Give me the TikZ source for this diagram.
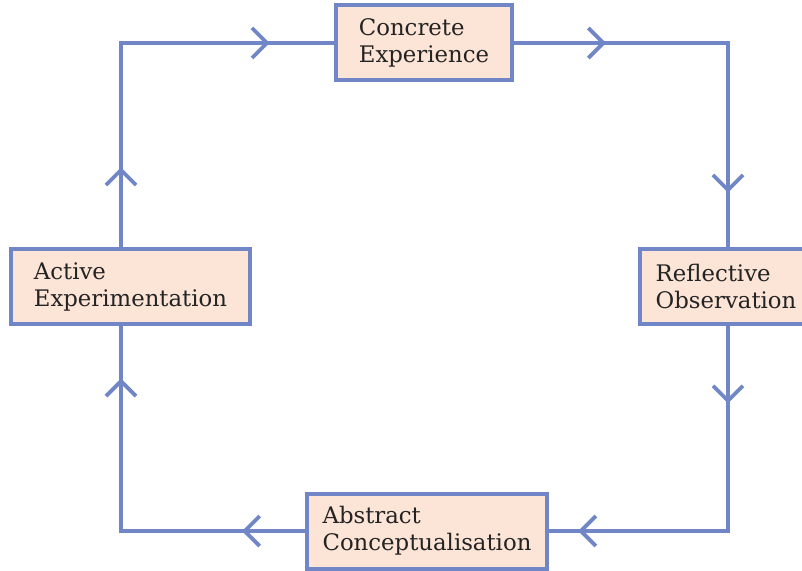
\documentclass[tikz,border=0pt]{standalone}
\usepackage{fontspec}
\setmainfont{DejaVu Serif}
\usetikzlibrary{arrows.meta,decorations.markings}

\definecolor{cycleblue}{RGB}{112,134,198}
\definecolor{stagefill}{RGB}{252,228,214}
\definecolor{stagetext}{RGB}{35,35,35}

\tikzset{
  stage/.style={draw=cycleblue, line width=2pt, fill=stagefill, align=left,
    text=stagetext, font=\fontsize{11.4}{13.5}\selectfont, minimum height=37.5pt},
  flow/.style={draw=cycleblue, line width=1.9pt},
  midtips/.style 2 args={postaction={decorate}, decoration={markings,
    mark=at position #1 with {\arrow{Straight Barb[length=7.5pt,width=15pt]}},
    mark=at position #2 with {\arrow{Straight Barb[length=7.5pt,width=15pt]}}}}
}

\begin{document}
\begin{tikzpicture}[x=0.5pt,y=-0.5pt]
    \useasboundingbox (0,0) rectangle (802,571);

    % The four stages of the cycle
    \node[stage, inner xsep=11.5pt] (CE) at (424,43)    {Concrete\\Experience};
    \node[stage, inner xsep=8pt]    (RO) at (726,286.5) {Reflective\\Observation};
    \node[stage, inner xsep=8pt]    (AC) at (427,531)   {Abstract\\Conceptualisation};
    \node[stage, inner xsep=11.5pt] (AE) at (130.5,286.5) {Active\\Experimentation};

    % Corners of the loop
    \coordinate (tl) at (121,43);
    \coordinate (tr) at (728,43);
    \coordinate (br) at (728,531);
    \coordinate (bl) at (121,531);

    % Edges round the loop
    \draw[flow, midtips={0.191}{0.846}] (tl |- AE.north) -- (tl) -- (CE.west);
    \draw[flow, midtips={0.220}{0.870}] (CE.east) -- (tr) -- (tr |- RO.north);
    \draw[flow, midtips={0.202}{0.925}] (br |- RO.south) -- (br) -- (AC.east);
    \draw[flow, midtips={0.161}{0.865}] (AC.west) -- (bl) -- (bl |- AE.south);
\end{tikzpicture}
\end{document}
